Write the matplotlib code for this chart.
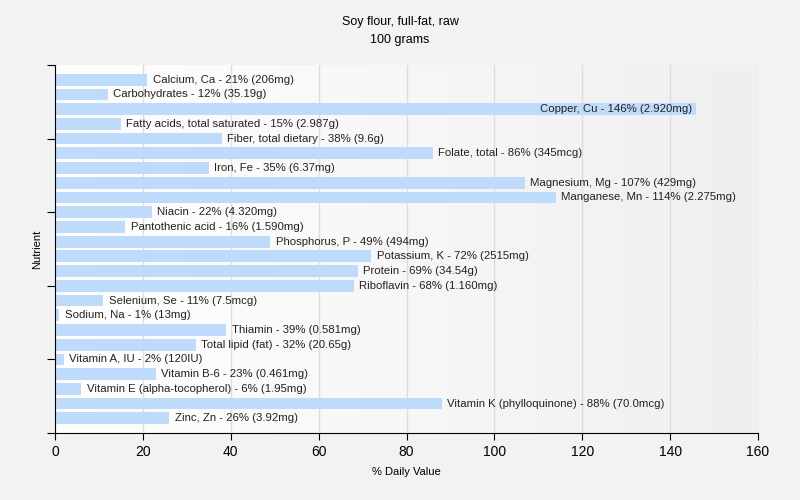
#!/usr/bin/env python3
"""Soy flour nutrient chart: % daily value per nutrient."""

import matplotlib
matplotlib.use("Agg")
import matplotlib.pyplot as plt
import numpy as np

nutrients = [
    "Calcium, Ca", "Carbohydrates", "Copper, Cu", "Fatty acids, total saturated",
    "Fiber, total dietary", "Folate, total", "Iron, Fe", "Magnesium, Mg",
    "Manganese, Mn", "Niacin", "Pantothenic acid", "Phosphorus, P",
    "Potassium, K", "Protein", "Riboflavin", "Selenium, Se", "Sodium, Na",
    "Thiamin", "Total lipid (fat)", "Vitamin A, IU", "Vitamin B-6",
    "Vitamin E (alpha-tocopherol)", "Vitamin K (phylloquinone)", "Zinc, Zn",
]
daily_pct = [21, 12, 146, 15, 38, 86, 35, 107, 114, 22, 16, 49, 72, 69, 68,
             11, 1, 39, 32, 2, 23, 6, 88, 26]
amounts = ["206mg", "35.19g", "2.920mg", "2.987g", "9.6g", "345mcg", "6.37mg",
           "429mg", "2.275mg", "4.320mg", "1.590mg", "494mg", "2515mg", "34.54g",
           "1.160mg", "7.5mcg", "13mg", "0.581mg", "20.65g", "120IU", "0.461mg",
           "1.95mg", "70.0mcg", "3.92mg"]

BAR = "#bfdbfc"
BG = "#f2f2f2"
plt.rcParams["font.family"] = ["Liberation Sans", "DejaVu Sans"]

fig = plt.figure(figsize=(8, 5), dpi=100, facecolor=BG)
ax = fig.add_axes([0.06875, 0.134, 0.87875, 0.736])

n = len(nutrients)
y = np.arange(n)
ax.barh(y, daily_pct, height=0.8, color=BAR, zorder=2)

# gradient background for the plot area
grad = np.linspace(0, 1, 256).reshape(1, -1)
ax.imshow(grad, extent=(0, 160, n, -1), aspect="auto",
          cmap=matplotlib.colors.LinearSegmentedColormap.from_list("bg", ["#ffffff", "#efefef"]),
          zorder=0)

for yi, (name, pct, amt) in enumerate(zip(nutrients, daily_pct, amounts)):
    label = f"{name} - {pct}% ({amt})"
    if pct > 120:
        ax.text(pct - 1, yi, label, ha="right", va="center", fontsize=8.2,
                color="#222222", zorder=3)
    else:
        ax.text(pct + 1.2, yi, label, ha="left", va="center", fontsize=8.2,
                color="#222222", zorder=3)

ax.set_xlim(0, 160)
ax.set_ylim(n, -1)
ax.set_xticks(range(0, 161, 20))
ax.set_yticks(np.arange(-1, n + 1, 5))
ax.set_yticklabels([])
ax.grid(axis="x", color="#dddddd", linewidth=1, zorder=1)
ax.set_axisbelow(True)
for s in ("top", "right"):
    ax.spines[s].set_visible(False)
ax.tick_params(axis="x", labelsize=10, length=5, color="black")
ax.tick_params(axis="y", length=6, color="black")

ax.set_xlabel("% Daily Value", fontsize=8, labelpad=6)
ax.set_ylabel("Nutrient", fontsize=8, labelpad=0)
fig.text(0.5, 0.955, "Soy flour, full-fat, raw", ha="center", va="center", fontsize=9)
fig.text(0.5, 0.92, "100 grams", ha="center", va="center", fontsize=9)

fig.savefig("out.png", dpi=100, facecolor=BG)
